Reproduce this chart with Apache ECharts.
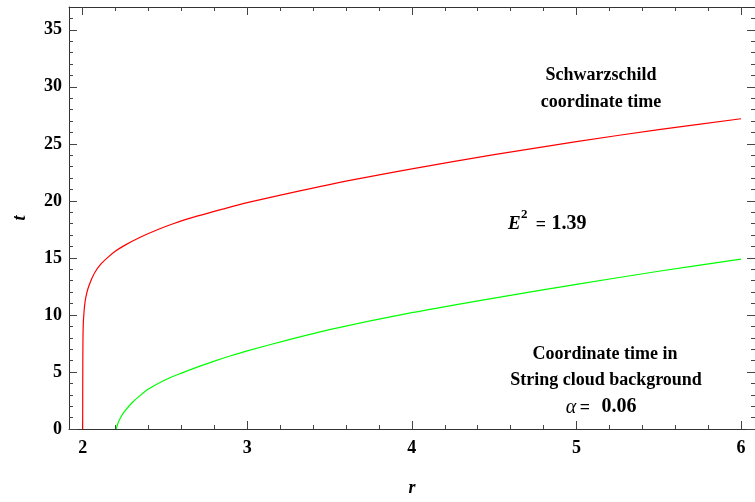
<!DOCTYPE html>
<html><head><meta charset="utf-8">
<script src="https://cdn.jsdelivr.net/npm/echarts@6/dist/echarts.min.js"></script>
<style>html,body{margin:0;padding:0;background:#fff}#c{width:755px;height:502px}</style>
</head><body><div id="c"></div>
<script>
// Schwarzschild coordinate time (red)
const schwarzschildR = [2.000, 2.0005, 2.001, 2.002, 2.004, 2.007, 2.012, 2.02, 2.032, 2.05, 2.073, 2.11, 2.153, 2.2, 2.255, 2.356, 2.45, 2.55, 2.7, 2.85, 3.0, 3.5, 4.0, 4.5, 5.0, 5.5, 6.0];
const schwarzschildT = [0, 4.0, 6.0, 8.0, 9.3, 10.0, 10.85, 11.6, 12.3, 13.0, 13.7, 14.45, 15.05, 15.6, 16.1, 16.85, 17.45, 18.0, 18.68, 19.28, 19.85, 21.43, 22.8, 24.05, 25.2, 26.25, 27.2];
// Coordinate time in string cloud background (green)
const stringCloudR = [2.204, 2.212, 2.225, 2.25, 2.3, 2.35, 2.4, 2.5, 2.6, 2.7, 2.8, 2.9, 3.0, 3.25, 3.5, 4.0, 4.5, 5.0, 5.5, 6.0];
const stringCloudT = [0, 0.4, 0.85, 1.45, 2.3, 2.95, 3.5, 4.3, 4.9, 5.45, 5.95, 6.42, 6.85, 7.82, 8.72, 10.2, 11.48, 12.68, 13.83, 14.9];
// ticks
const xMajorTicks = [2, 3, 4, 5, 6];
const xMinorTicks = [2.2, 2.4, 2.6, 2.8, 3.2, 3.4, 3.6, 3.8, 4.2, 4.4, 4.6, 4.8, 5.2, 5.4, 5.6, 5.8];
const yMajorTicks = [0, 5, 10, 15, 20, 25, 30, 35];
const yMinorTicks = [1, 2, 3, 4, 6, 7, 8, 9, 11, 12, 13, 14, 16, 17, 18, 19, 21, 22, 23, 24, 26, 27, 28, 29, 31, 32, 33, 34, 36];
const xRange = [1.917, 6.085];
const yRange = [0, 37];

const FONT = "'Liberation Serif','Times New Roman',serif";
const tickColor = '#444';

function mkAxis(kind, pos, ticks, len, isMajor, withLabels, extra) {
  const r = kind === 'x' ? xRange : yRange;
  return Object.assign({
    type: 'value', position: pos, min: r[0], max: r[1],
    axisLine: { show: isMajor, onZero: false, lineStyle: { color: '#333', width: 1 } },
    axisTick: { show: true, inside: true, length: len, customValues: ticks, lineStyle: { color: tickColor, width: 1 } },
    axisLabel: withLabels ? {
      show: true, customValues: ticks, formatter: v => String(v),
      fontFamily: FONT, fontWeight: 'bold', fontSize: 18, color: '#000',
      margin: kind === 'x' ? 10 : 7
    } : { show: false },
    splitLine: { show: false }, minorTick: { show: false }
  }, extra || {});
}

const nameStyle = { fontFamily: FONT, fontStyle: 'italic', fontWeight: 'bold', fontSize: 18, color: '#000' };
function txt(x, y, s, font, align) {
  return { type: 'text', x: x, y: y, style: { text: s, font: font, fill: '#000', textAlign: align || 'center', textVerticalAlign: 'middle' } };
}
const B18 = `bold 18px ${FONT}`;
const B20 = `bold 20px ${FONT}`;

const chart = echarts.init(document.getElementById('c'), null, { renderer: 'canvas' });
chart.setOption({
  animation: false,
  backgroundColor: '#fff',
  grid: { left: 69, right: -1, top: 7, bottom: 71, containLabel: false },
  xAxis: [
    mkAxis('x', 'bottom', xMajorTicks, 8, true, true, { name: 'r', nameLocation: 'middle', nameGap: 50, nameTextStyle: nameStyle }),
    mkAxis('x', 'bottom', xMinorTicks, 4, false, false),
    mkAxis('x', 'top', xMajorTicks, 8, true, false),
    mkAxis('x', 'top', xMinorTicks, 4, false, false)
  ],
  yAxis: [
    mkAxis('y', 'left', yMajorTicks, 8, true, true, { name: 't', nameLocation: 'middle', nameGap: 40, nameRotate: 90, nameTextStyle: nameStyle }),
    mkAxis('y', 'left', yMinorTicks, 4, false, false),
    mkAxis('y', 'right', yMajorTicks, 8, true, false),
    mkAxis('y', 'right', yMinorTicks, 4, false, false)
  ],
  series: [
    {
      type: 'line', xAxisIndex: 0, yAxisIndex: 0, showSymbol: false, smooth: 0.25,
      lineStyle: { color: '#ff0000', width: 1.2 }, itemStyle: { color: '#ff0000' },
      data: schwarzschildR.map((r, i) => [r, schwarzschildT[i]]), z: 3
    },
    {
      type: 'line', xAxisIndex: 0, yAxisIndex: 0, showSymbol: false, smooth: 0.25,
      lineStyle: { color: '#00ff00', width: 1.2 }, itemStyle: { color: '#00ff00' },
      data: stringCloudR.map((r, i) => [r, stringCloudT[i]]), z: 3
    }
  ],
  graphic: [
    txt(601, 75, 'Schwarzschild', B18),
    txt(601, 102, 'coordinate time', B18),
    txt(508, 224, 'E', `italic bold 19px ${FONT}`, 'left'),
    txt(521, 215, '2', `bold 13px ${FONT}`, 'left'),
    txt(541, 225, '=', B18),
    txt(569, 224, '1.39', B20),
    txt(605, 354, 'Coordinate time in', B18),
    txt(606, 380, 'String cloud background', B18),
    txt(571, 408, 'α', `italic 20px ${FONT}`),
    txt(585, 408, '=', B18),
    txt(619, 407, '0.06', B20)
  ]
});
</script>
</body></html>
